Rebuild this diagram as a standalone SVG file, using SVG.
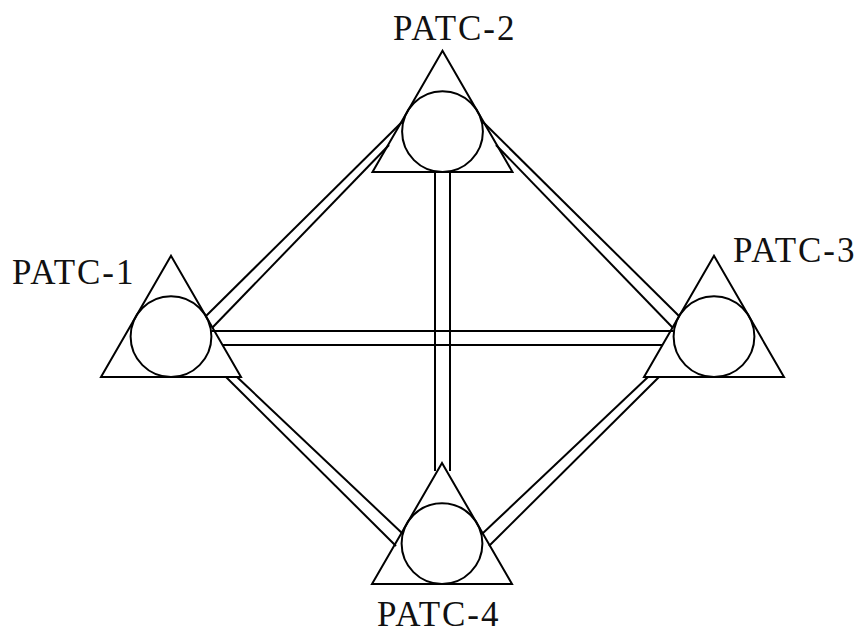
<svg xmlns="http://www.w3.org/2000/svg" width="856" height="634" viewBox="0 0 856 634">
<style>
.shape{fill:none;stroke:#000;stroke-width:2}
.conn line{stroke:#000;stroke-width:2;fill:none}
.lbl{font-family:"Liberation Serif","Times New Roman",serif;font-size:35px;letter-spacing:2px;fill:#111}
</style>
<rect width="856" height="634" fill="#fff"/>
<g id="connectors" class="conn">
<line x1="211.4" y1="331" x2="673.6" y2="331"/>
<line x1="222.6" y1="345" x2="662.5" y2="345"/>
<line x1="435" y1="172" x2="435" y2="471"/>
<line x1="450" y1="172" x2="450" y2="471"/>
<line x1="206" y1="316" x2="403" y2="121"/>
<line x1="212.5" y1="327.5" x2="389" y2="145"/>
<line x1="679" y1="316" x2="482" y2="121"/>
<line x1="672.5" y1="327.5" x2="496" y2="145"/>
<line x1="226" y1="377" x2="396" y2="546"/>
<line x1="237" y1="377" x2="403" y2="534"/>
<line x1="659" y1="377" x2="489" y2="546"/>
<line x1="648" y1="377" x2="482" y2="534"/>
</g>
<g id="patc1">
<polygon class="shape" points="171,255.8 101,377 241,377"/>
<circle class="shape" cx="171" cy="336.6" r="40.4"/>
<text class="lbl" x="12" y="284">PATC-1</text>
</g>
<g id="patc2">
<polygon class="shape" points="442.5,50.8 372.5,172 512.5,172"/>
<circle class="shape" cx="442.5" cy="131.6" r="40.4"/>
<text class="lbl" x="393" y="40">PATC-2</text>
</g>
<g id="patc3">
<polygon class="shape" points="714,255.8 644,377 784,377"/>
<circle class="shape" cx="714" cy="336.6" r="40.4"/>
<text class="lbl" x="733" y="262">PATC-3</text>
</g>
<g id="patc4">
<polygon class="shape" points="442,463 372,584 512,584"/>
<circle class="shape" cx="442" cy="543.6" r="40.4"/>
<text class="lbl" x="377" y="626">PATC-4</text>
</g>
</svg>
